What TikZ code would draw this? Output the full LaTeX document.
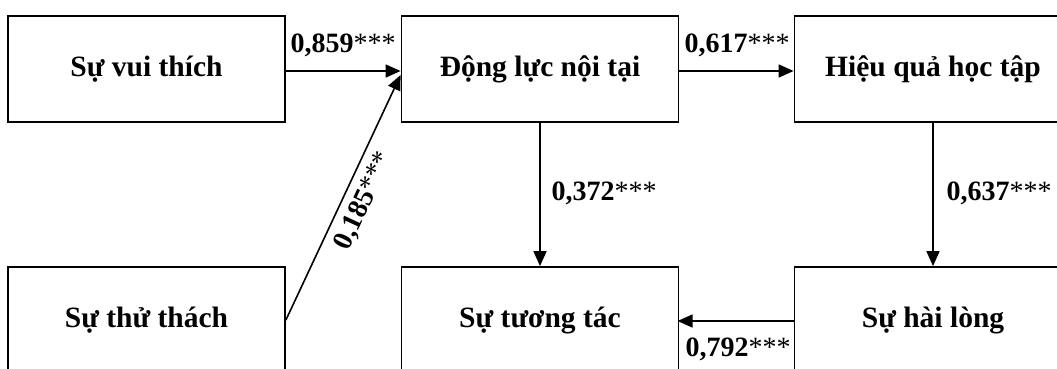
\documentclass[tikz,border=0pt]{standalone}
\usepackage{fontspec}
\setmainfont{Liberation Serif}
\usetikzlibrary{arrows.meta,calc}
\begin{document}
\begin{tikzpicture}[x=1pt,y=-1pt,
  box/.style={draw,line width=1.8pt,minimum width=277pt,minimum height=106pt,
    inner sep=0pt,font=\fontsize{29.5}{31}\selectfont\bfseries},
  link/.style={line width=1.6pt,-{Triangle[length=15pt,width=13pt]}},
  coef/.style={font=\fontsize{28}{30}\selectfont,inner sep=1pt}]
\clip (0,0) rectangle (1057,368);
\useasboundingbox (0,0) rectangle (1057,368);
\fill[white] (0,0) rectangle (1057,368);
% top row
\node[box] (vui) at (146.5,69) {Sự vui thích};
\node[box] (dl)  at (540,69) {Động lực nội tại};
\node[box] (hq)  at (933,69) {Hiệu quả học tập};
% bottom row
\node[box] (tt)  at (146.5,320) {Sự thử thách};
\node[box] (tac) at (540,320) {Sự tương tác};
\node[box] (hl)  at (933,320) {Sự hài lòng};
% paths
\draw[link] ($(vui.east)+(0,2)$) -- ($(dl.west)+(0,2)$);
\draw[link] (tt.east) -- ($(dl.west)+(0,6)$);
\draw[link] ($(dl.east)+(0,2)$) -- ($(hq.west)+(0,2)$);
\draw[link] (dl.south) -- (tac.north);
\draw[link] (hq.south) -- (hl.north);
\draw[link] ($(hl.west)+(0,1)$) -- ($(tac.west)+(277,1)$);
% coefficients
\node[coef] (c1) at (343,45) {\textbf{0,859}***};
\node[coef] (c2) at (737,45) {\textbf{0,617}***};
\node[coef] (c3) at (604,193) {\textbf{0,372}***};
\node[coef] (c4) at (999,193) {\textbf{0,637}***};
\node[coef] (c5) at (738,349) {\textbf{0,792}***};
\node[coef,rotate=65] (c6) at (364,201) {\textbf{0,185}***};
\end{tikzpicture}
\end{document}
